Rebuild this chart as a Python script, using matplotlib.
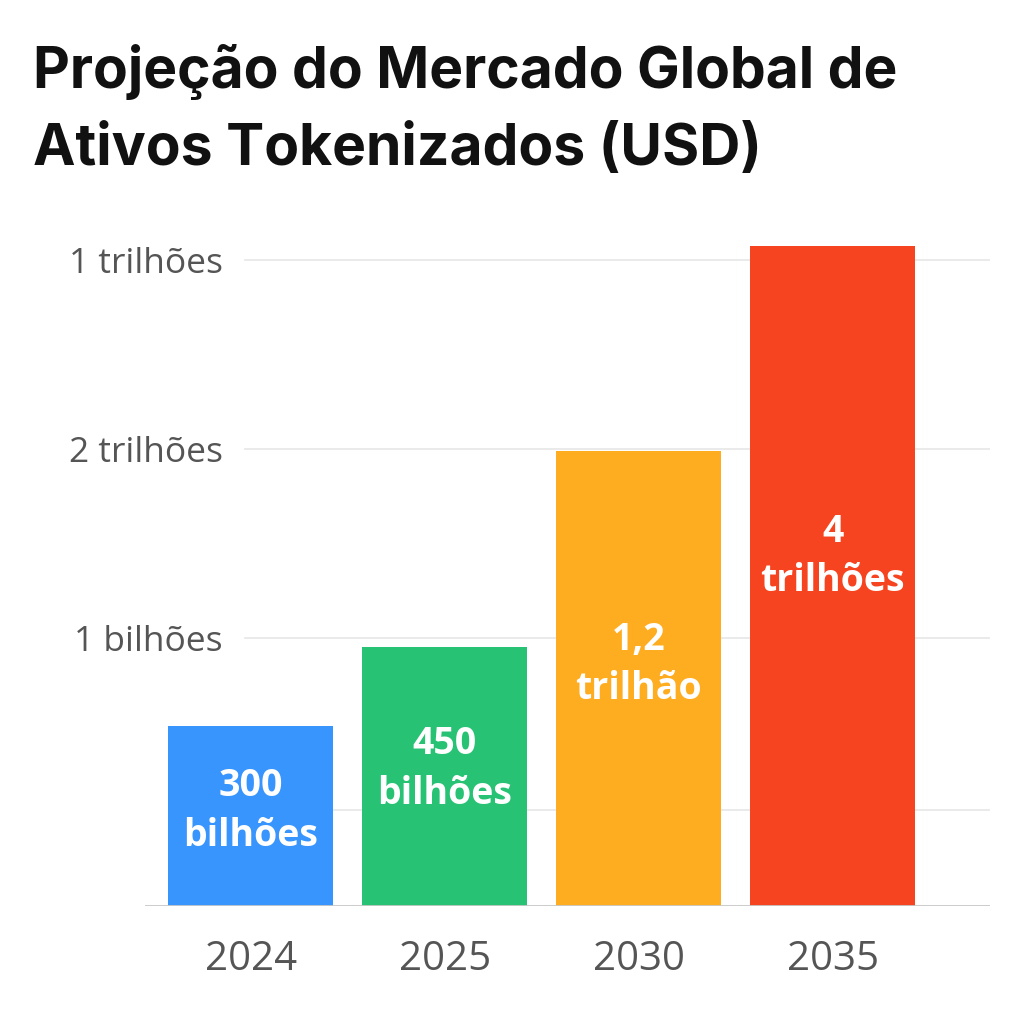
import matplotlib.pyplot as plt

# Data (heights, in axis units where one gridline step = 1)
anos = ['2024', '2025', '2030', '2035']
alturas = [0.95, 1.37, 2.41, 3.49]
rotulos = ['300\nbilhões', '450\nbilhões', '1,2\ntrilhão', '4\ntrilhões']
cores = ['#3895FD', '#27C273', '#FFAD20', '#F5441F']

ticks_y = [1.42, 2.42, 3.42]
ticks_y_labels = ['1 bilhões', '2 trilhões', '1 trilhões']
grade_extra = [0.51]

fig = plt.figure(figsize=(10.24, 10.24), dpi=100)
ax = fig.add_axes([145 / 1024, 118 / 1024, 845 / 1024, 686 / 1024])

x = list(range(len(anos)))
ax.bar(x, alturas, width=0.85, color=cores, zorder=3)

for xi, h, txt in zip(x, alturas, rotulos):
    ax.text(xi, h * 0.53, txt, ha='center', va='center', color='white',
            fontsize=27, fontweight='bold', family='Open Sans',
            linespacing=1.4, zorder=4)

for gy in ticks_y + grade_extra:
    ax.axhline(gy, xmin=0.118, xmax=1, color='#e6e6e6', lw=1.2, zorder=1)
ax.axhline(0, color='#c8c8c8', lw=2, zorder=5)

ax.set_xlim(-0.546, 3.81)
ax.set_ylim(0, 3.63)
ax.set_xticks(x)
ax.set_xticklabels(anos, fontsize=29, color='#555555', family='Open Sans')
ax.set_yticks(ticks_y)
ax.set_yticklabels(ticks_y_labels, fontsize=25.5, color='#555555', family='Open Sans')
ax.tick_params(axis='x', length=0, pad=24)
ax.tick_params(axis='y', length=0, pad=-56)
for s in ax.spines.values():
    s.set_visible(False)

fig.text(33 / 1024, 1 - 44 / 1024,
         'Projeção do Mercado Global de\nAtivos Tokenizados (USD)',
         ha='left', va='top', fontsize=41, fontweight='bold',
         family='Inter', color='#111111', linespacing=1.55)

fig.savefig('out.png', dpi=100, facecolor='white')
